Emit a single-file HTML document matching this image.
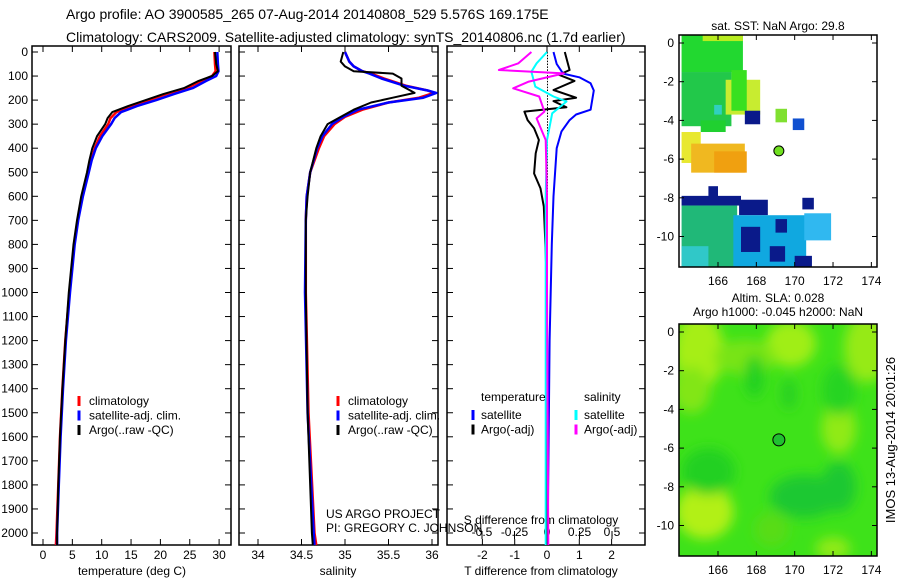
<!DOCTYPE html>
<html><head><meta charset="utf-8">
<style>
body{margin:0;background:#fff;}
svg{display:block;font-family:"Liberation Sans",sans-serif;}
text{fill:#000;}
</style></head>
<body>
<svg id="fig" width="900" height="580" viewBox="0 0 900 580" xmlns="http://www.w3.org/2000/svg">
<defs><filter id="blur" x="-20%" y="-20%" width="140%" height="140%"><feGaussianBlur stdDeviation="6"/></filter>
<clipPath id="clipSla"><rect x="679" y="324" width="198" height="232"/></clipPath></defs>
<rect width="900" height="580" fill="#fff"/>
<text x="66" y="19" font-size="14">Argo profile: AO 3900585_265 07-Aug-2014 20140808_529 5.576S 169.175E</text>
<text x="66" y="42" font-size="14">Climatology: CARS2009. Satellite-adjusted climatology: synTS_20140806.nc (1.7d earlier)</text>
<g id="g1"></g><g id="g2"></g><g id="g3"></g><g id="m1"></g><g id="m2"></g>
<text transform="translate(895,440) rotate(-90)" text-anchor="middle" font-size="13">IMOS 13-Aug-2014 20:01:26</text>
</svg>
<script>
const NS="http://www.w3.org/2000/svg";
// ---------- data ----------
const tempDepth=[0,50,80,100,120,150,175,200,225,250,275,300,350,400,450,500,600,700,800,1000,1200,1400,1600,1800,2000,2050];
const tempArgo=[29.3,29.5,29.8,28.8,26.5,24,20.5,17.5,14.5,11.8,11,10.6,9.2,8.4,7.9,7.5,6.5,5.8,5.2,4.4,3.8,3.3,2.9,2.6,2.4,2.4];
const tempClim=[29.2,29.3,29.4,28.8,27,24.5,21,18,15,12.5,11.5,11.1,9.7,8.8,8.2,7.7,6.7,5.9,5.3,4.5,3.8,3.3,2.9,2.6,2.3,2.2];
const tempSat=[29.7,29.8,29.9,29.5,27.8,25.5,22.3,19.3,16,13.3,12.2,11.6,10.1,9.0,8.3,7.8,6.8,6.0,5.4,4.6,3.9,3.4,3.0,2.7,2.4,2.4];
const salDepth=[0,40,60,80,90,110,140,160,170,190,210,240,270,300,350,400,500,600,700,1000,1500,2000,2050];
const salArgo=[34.98,34.95,35.0,35.1,35.55,35.65,35.65,35.75,35.8,35.55,35.3,35.1,34.95,34.8,34.72,34.67,34.6,34.57,34.55,34.55,34.57,34.62,34.63];
const salClim=[35.0,35.05,35.1,35.2,35.3,35.45,35.7,35.95,36.02,35.85,35.5,35.2,35.0,34.88,34.76,34.7,34.6,34.56,34.55,34.55,34.58,34.65,34.67];
const salSat=[35.0,35.05,35.1,35.2,35.28,35.42,35.68,35.95,36.05,35.9,35.5,35.15,34.98,34.85,34.74,34.68,34.6,34.56,34.55,34.54,34.57,34.64,34.65];
const tdDepthArgo=[0,75,95,120,158,190,204,230,248,283,317,366,421,505,567,643,800,1000,2050];
const tdArgo=[0.55,0.7,0.37,0.85,0.2,0.9,0.2,0.6,-0.7,-0.6,-0.4,-0.25,-0.35,-0.4,-0.2,-0.1,-0.05,0,0];
const tdDepthSat=[0,50,90,105,130,160,200,240,260,283,330,400,600,800,1200,2050];
const tdSat=[0.2,0.3,0.5,1.0,1.35,1.45,1.4,1.35,0.9,0.7,0.45,0.3,0.2,0.15,0.08,0.02];
const sdDepthSat=[0,47,82,144,185,206,255,311,366,600,2050];
const sdSat=[0,-0.08,-0.12,-0.09,0.05,0.15,0.04,0.02,0,-0.01,-0.01];
const sdDepthArgo=[0,47,75,89,123,151,185,248,276,366,600,1000,2050];
const sdArgo=[-0.12,-0.22,-0.37,0.13,-0.14,-0.26,-0.06,-0.02,-0.08,-0.01,0,0,0.01];
const depthTicks=[0,100,200,300,400,500,600,700,800,900,1000,1100,1200,1300,1400,1500,1600,1700,1800,1900,2000];
const tempTicks=[0,5,10,15,20,25,30];
const salTicks=[34,34.5,35,35.5,36];
const tdTicks=[-2,-1,0,1,2];
const sdTicks=[-0.5,-0.25,0,0.25,0.5];
const latTicks=[0,-2,-4,-6,-8,-10];
const lonTicks=[166,168,170,172,174];
// ---------- helpers ----------
function el(tag,attrs,parent,txt){const e=document.createElementNS(NS,tag);for(const k in attrs)e.setAttribute(k,attrs[k]);if(txt!==undefined)e.textContent=txt;parent.appendChild(e);return e;}
const yD=d=>52+d*0.2405;
const PT=46,PB=545;
function frame(g,x0,x1,name){
  const r=el('rect',{x:x0,y:PT,width:x1-x0,height:PB-PT,fill:'none',stroke:'#000','stroke-width':1.5},g);
  
  
  depthTicks.forEach(d=>{el('line',{x1:x0,x2:x0+6,y1:yD(d),y2:yD(d),stroke:'#000'},g);el('line',{x1:x1,x2:x1-6,y1:yD(d),y2:yD(d),stroke:'#000'},g);});
}
function line(g,xs,ds,fx,color,w,name){
  const pts=xs.map((v,i)=>fx(v).toFixed(1)+','+yD(ds[i]).toFixed(1)).join(' ');
  const p=el('polyline',{points:pts,fill:'none',stroke:color,'stroke-width':w,'stroke-linejoin':'round'},g);
  
  
}
function xticks(g,ticks,fx,y,fmt,top){
  ticks.forEach(t=>{const x=fx(t);el('line',{x1:x,x2:x,y1:PB,y2:PB-6,stroke:'#000'},g);if(top)el('line',{x1:x,x2:x,y1:PT,y2:PT+6,stroke:'#000'},g);
    const tx=el('text',{x:x,y:y,'text-anchor':'middle','font-size':12},g,fmt?fmt(t):String(t));
    
    });
}
function legend(g,x,items){
  items.forEach((it,i)=>{const y=401+i*14.5;el('line',{x1:x,x2:x,y1:y-5,y2:y+5,stroke:it[0],'stroke-width':3},g);
    const t=el('text',{x:x+10,y:y+4,'font-size':12},g,it[1]);
    
    });
}
// ---------- panel 1 ----------
const g1=document.getElementById('g1');
const fT=v=>43+v*5.87;
frame(g1,32,231,'temperature-panel');
depthTicks.forEach(d=>{const t=el('text',{x:28,y:yD(d)+4,'text-anchor':'end','font-size':12},g1,String(d));
  
  });
xticks(g1,tempTicks,fT,559,null,true);
el('text',{x:132,y:575,'text-anchor':'middle','font-size':12,},g1,'temperature (deg C)');
line(g1,tempClim,tempDepth,fT,'#f00',2.5,'temp-climatology-line');
line(g1,tempSat,tempDepth,fT,'#00f',2.5,'temp-satellite-line');
line(g1,tempArgo,tempDepth,fT,'#000',2,'temp-argo-line');
legend(g1,79,[['#f00','climatology'],['#00f','satellite-adj. clim.'],['#000','Argo(..raw -QC)']]);
// ---------- panel 2 ----------
const g2=document.getElementById('g2');
const fS=v=>258+(v-34)*87;
frame(g2,239,438,'salinity-panel');
xticks(g2,salTicks,fS,559,null,true);
el('text',{x:338,y:575,'text-anchor':'middle','font-size':12,},g2,'salinity');
line(g2,salClim,salDepth,fS,'#f00',2.5,'sal-climatology-line');
line(g2,salSat,salDepth,fS,'#00f',2.5,'sal-satellite-line');
line(g2,salArgo,salDepth,fS,'#000',2,'sal-argo-line');
legend(g2,338,[['#f00','climatology'],['#00f','satellite-adj. clim.'],['#000','Argo(..raw -QC)']]);
el('text',{x:326,y:518,'font-size':12,},g2,'US ARGO PROJECT');
el('text',{x:326,y:532,'font-size':12,},g2,'PI: GREGORY C. JOHNSON');
// ---------- panel 3 ----------
const g3=document.getElementById('g3');
const fTd=v=>547+v*32.3;
const fSd=v=>547+v*130;
frame(g3,447,645,'difference-panel');
for(let d=0;d<=2050;d+=12)el('rect',{x:547,y:yD(d),width:1,height:1.5,fill:'#000'},g3);
tdTicks.forEach(t=>{el('line',{x1:fTd(t),x2:fTd(t),y1:PT,y2:PT+6,stroke:'#000'},g3);});
xticks(g3,tdTicks,fTd,559,t=>String(t),false);
sdTicks.forEach(t=>{const x=fSd(t);el('line',{x1:x,x2:x,y1:PB-6,y2:PB-14,stroke:'#000'},g3);
  const tx=el('text',{x:x,y:536,'text-anchor':'middle','font-size':12},g3,String(t));
  
  });
el('text',{x:541,y:524,'text-anchor':'middle','font-size':12,},g3,'S difference from climatology');
el('text',{x:541,y:575,'text-anchor':'middle','font-size':12,},g3,'T difference from climatology');
line(g3,tdSat,tdDepthSat,fTd,'#00f',2,'t-diff-satellite-line');
line(g3,tdArgo,tdDepthArgo,fTd,'#000',2,'t-diff-argo-line');
line(g3,sdSat,sdDepthSat,fSd,'#0ff',2,'s-diff-satellite-line');
line(g3,sdArgo,sdDepthArgo,fSd,'#f0f',2,'s-diff-argo-line');
el('text',{x:481,y:401,'font-size':12,},g3,'temperature');
el('text',{x:584,y:401,'font-size':12,},g3,'salinity');
[[['#00f','satellite'],['#0ff','satellite']],[['#000','Argo(-adj)'],['#f0f','Argo(-adj)']]].forEach((row,i)=>{
  const y=415+i*14.5;
  [[473,row[0]],[576,row[1]]].forEach(([x,it])=>{el('line',{x1:x,x2:x,y1:y-5,y2:y+5,stroke:it[0],'stroke-width':3},g3);
    const t=el('text',{x:x+8,y:y+4,'font-size':12},g3,it[1]);
    
    });
});
// ---------- maps ----------
function mapAxes(g,top,bot,lat0y,name){
  const fx=lon=>718+(lon-166)*19.17, fy=lat=>lat0y-lat*19.35;
  const r=el('rect',{x:679,y:top,width:198,height:bot-top,fill:'none',stroke:'#000','stroke-width':1.5},g);
  
  
  latTicks.forEach(t=>{const y=fy(t);el('line',{x1:679,x2:684,y1:y,y2:y,stroke:'#000'},g);el('line',{x1:877,x2:872,y1:y,y2:y,stroke:'#000'},g);
    const tx=el('text',{x:674,y:y+4,'text-anchor':'end','font-size':12},g,String(t));
    
    });
  lonTicks.forEach(t=>{const x=fx(t);el('line',{x1:x,x2:x,y1:bot,y2:bot-5,stroke:'#000'},g);el('line',{x1:x,x2:x,y1:top,y2:top+5,stroke:'#000'},g);
    const tx=el('text',{x:x,y:bot+18,'text-anchor':'middle','font-size':12},g,String(t));
    
    });
  return [fx,fy];
}
// SST map
const m1=document.getElementById('m1');
const [fx1,fy1]=[lon=>718+(lon-166)*19.17,lat=>43-lat*19.35];
const sstBlocks=[
 [164.1,0.4,167.3,-1.5,'#22d830'],[164.1,-1.5,166.7,-4.3,'#22c84a'],[165.2,0.4,167.3,0.1,'#b8ec20'],
 [166.4,-1.9,168.2,-3.7,'#c8ec30'],[166.7,-1.4,167.5,-3.5,'#38e020'],[167.4,-3.5,168.2,-4.2,'#0a1a8a'],
 [165.1,-4.0,166.4,-4.6,'#20d030'],[165.8,-3.2,166.2,-3.7,'#30d0c0'],[169.0,-3.4,169.6,-4.1,'#80e030'],
 [169.9,-3.9,170.5,-4.5,'#1050d0'],[164.1,-4.6,165.1,-6.2,'#e8e830'],[164.6,-5.2,167.4,-6.7,'#f0b820'],
 [165.8,-5.6,167.5,-6.7,'#f0a010'],[164.1,-7.9,167.2,-8.4,'#0a1a8a'],[165.5,-7.4,166.0,-8.0,'#0a1a8a'],
 [167.1,-8.1,168.6,-8.9,'#0a1a8a'],[164.1,-8.4,167.0,-11.6,'#20b878'],[166.8,-8.9,170.6,-11.6,'#10a8e0'],
 [170.5,-8.8,171.9,-10.2,'#30b8f0'],[170.4,-8.0,171.0,-8.6,'#0a1a8a'],[167.2,-9.5,168.2,-10.8,'#0a1a8a'],
 [169.0,-9.1,169.6,-9.8,'#0a1a8a'],[170.0,-11.0,170.9,-11.6,'#0a1a8a'],[168.7,-10.5,169.5,-11.3,'#0a1a8a'],
 [164.1,-10.5,165.5,-11.6,'#30c8c8']];
sstBlocks.forEach(b=>{const r=el('rect',{x:fx1(b[0]),y:fy1(b[1]),width:fx1(b[2])-fx1(b[0]),height:fy1(b[3])-fy1(b[1]),fill:b[4]},m1);
  
  });
mapAxes(m1,35,267,43,'sst-map');
el('circle',{cx:fx1(169.175),cy:fy1(-5.576),r:5,fill:'#70e020',stroke:'#000',},m1);
el('text',{x:778,y:30,'text-anchor':'middle','font-size':12,},m1,'sat. SST: NaN Argo: 29.8');
// SLA map
const m2=document.getElementById('m2');
const [fx2,fy2]=[lon=>718+(lon-166)*19.17,lat=>332-lat*19.35];
el('rect',{x:679,y:324,width:198,height:232,fill:'#3ee21a'},m2);
const slaG=el('g',{'clip-path':'url(#clipSla)'},m2);
const blobG=el('g',{filter:'url(#blur)'},slaG);
const slaBlobs=[
 [165.0,-1.0,1.3,2.0,'#a6ee14'],[169.8,-0.6,1.3,1.2,'#a0ee14'],[173.8,-0.8,1.2,1.8,'#96ea14'],
 [165.3,-9.3,1.5,1.4,'#b2f014'],[172.3,-5.0,0.9,1.3,'#90ea14'],[172.0,-11.2,0.9,0.6,'#90ea14'],
 [164.6,-3.0,1.0,1.2,'#82e616'],[167.4,-1.3,1.6,0.9,'#78e418'],[172.3,-3.0,0.9,1.3,'#28d420'],
 [167.9,-2.3,0.5,1.1,'#22d020'],[165.5,-7.2,1.4,1.2,'#22d022'],[170.5,-8.5,1.8,1.1,'#1cc830'],
 [172.3,-8.0,0.9,1.3,'#1cc830'],[169.7,-3.2,0.4,0.8,'#26d020'],[168.8,-10.2,0.9,0.9,'#58dc18']];
slaBlobs.forEach(b=>{const e=el('ellipse',{cx:fx2(b[0]),cy:fy2(b[1]),rx:b[2]*19.2,ry:b[3]*19.3,fill:b[4]},blobG);
  
  });
mapAxes(m2,324,556,332,'sla-map');
el('circle',{cx:fx2(169.175),cy:fy2(-5.576),r:6,fill:'#20c030',stroke:'#000',},m2);
el('text',{x:778,y:302,'text-anchor':'middle','font-size':12,},m2,'Altim. SLA: 0.028');
el('text',{x:778,y:316,'text-anchor':'middle','font-size':12,},m2,'Argo h1000: -0.045 h2000: NaN');
</script>
</body></html>
